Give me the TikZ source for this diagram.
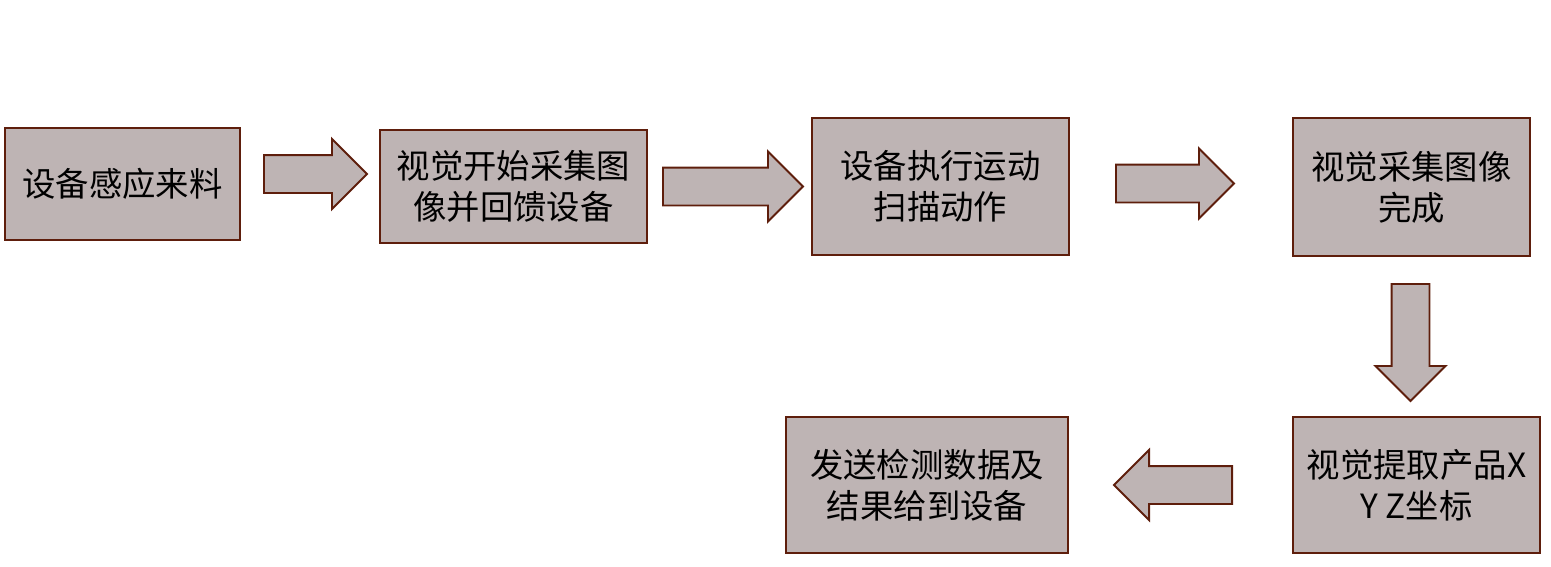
\documentclass[tikz,border=0pt]{standalone}
\usepackage{fontspec}
\newfontfamily\cjk{Noto Sans CJK SC}
\usetikzlibrary{shapes.arrows}
\definecolor{boxfill}{RGB}{190,180,180}
\definecolor{boxline}{RGB}{94,30,12}
\tikzset{
  stepbox/.style={rectangle, draw=boxline, fill=boxfill, line width=1.1pt, align=center,
    font=\cjk\fontsize{19}{23.2}\selectfont, inner sep=0pt},
  blockarrow/.style={single arrow, draw=boxline, fill=boxfill, line width=1.1pt,
    inner sep=0.36cm, single arrow head extend=0.32cm, anchor=tail,
    single arrow tip angle=90, single arrow head indent=0pt, minimum width=0pt},
}
\begin{document}
\begin{tikzpicture}[x=0.02cm, y=-0.02cm]
    \useasboundingbox (0,0) rectangle (1551,566);
    % Steps
    \node[stepbox, minimum width=4.7cm, minimum height=2.24cm] (SENSE) at (122.5,184) {设备感应来料};
    \node[stepbox, minimum width=5.34cm, minimum height=2.26cm] (START) at (513.5,186.5) {视觉开始采集图\\像并回馈设备};
    \node[stepbox, minimum width=5.14cm, minimum height=2.74cm] (SCAN) at (940.5,186.5) {设备执行运动\\扫描动作};
    \node[stepbox, minimum width=4.74cm, minimum height=2.76cm] (DONE) at (1411.5,187) {视觉采集图像\\完成};
    \node[stepbox, minimum width=4.94cm, minimum height=2.72cm] (EXTRACT) at (1416.5,485) {视觉提取产品X\\Y Z坐标};
    \node[stepbox, minimum width=5.64cm, minimum height=2.72cm] (SEND) at (927,485) {发送检测数据及\\结果给到设备};

    % Block arrows (placed by their tails)
    \node[blockarrow, minimum height=2.06cm] (A1) at (263,174) {};
    \node[blockarrow, minimum height=2.8cm] (A2) at (662,186.5) {};
    \node[blockarrow, minimum height=2.36cm] (A3) at (1115,183.5) {};
    \node[blockarrow, minimum height=2.34cm, shape border rotate=270] (A4) at (1410.5,283) {};
    \node[blockarrow, minimum height=2.36cm, shape border rotate=180] (A5) at (1233,485) {};
\end{tikzpicture}
\end{document}
